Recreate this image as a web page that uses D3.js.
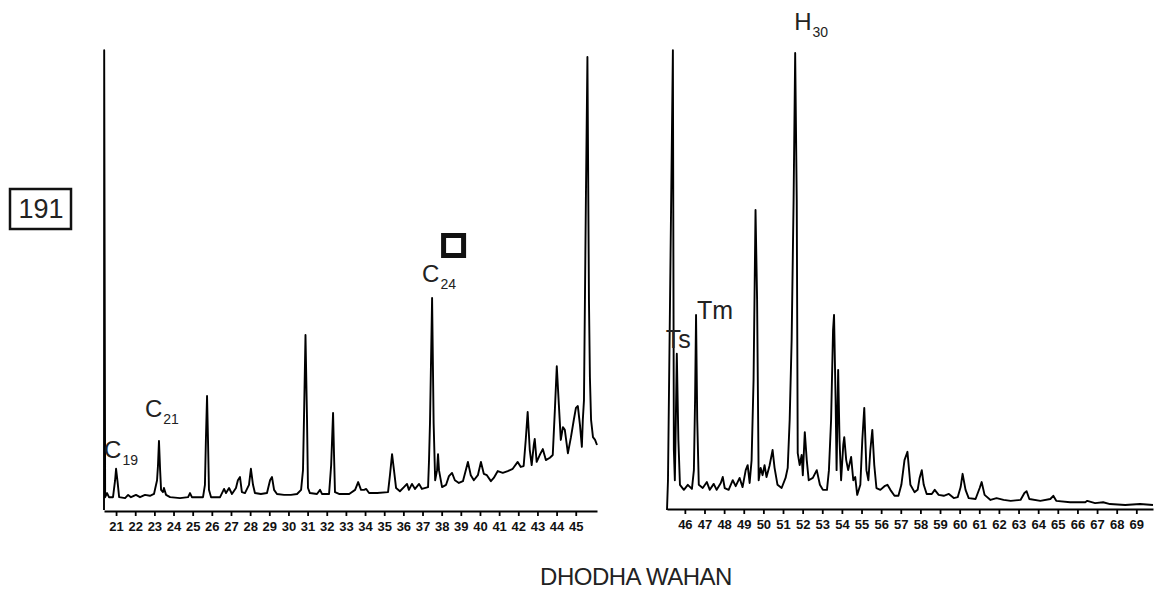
<!DOCTYPE html>
<html><head><meta charset="utf-8">
<script src="https://cdn.jsdelivr.net/npm/d3@7"></script>
<style>
body{margin:0;background:#fff;}
svg{display:block;}
</style></head>
<body>
<script>
// ---- data: retention time (min) vs relative abundance (%) ----
const leftTicks = [21,22,23,24,25,26,27,28,29,30,31,32,33,34,35,36,37,38,39,40,41,42,43,44,45];
const rightTicks = [46,47,48,49,50,51,52,53,54,55,56,57,58,59,60,61,62,63,64,65,66,67,68,69];

const leftTime = [20.37,20.38,20.43,20.53,20.63,20.84,20.95,21.00,21.08,21.16,21.47,21.63,21.78,22.04,22.25,22.51,22.77,22.98,23.14,23.19,23.24,23.30,23.35,23.45,23.50,23.61,23.82,24.34,24.76,24.86,24.96,25.54,25.64,25.69,25.75,25.80,25.85,25.96,26.43,26.64,26.74,26.90,27.05,27.26,27.36,27.47,27.57,27.73,27.94,28.04,28.15,28.25,28.56,28.88,29.04,29.14,29.25,29.40,29.77,30.13,30.45,30.66,30.76,30.81,30.89,30.97,31.02,31.12,31.49,31.65,31.75,32.12,32.23,32.33,32.38,32.43,32.64,33.17,33.48,33.64,33.79,33.95,34.06,34.21,34.63,35.20,35.30,35.41,35.51,35.62,35.82,36.03,36.19,36.29,36.45,36.61,36.82,36.97,37.29,37.34,37.39,37.50,37.58,37.66,37.76,37.81,37.86,38.02,38.23,38.38,38.54,38.69,38.90,39.11,39.26,39.37,39.52,39.68,39.89,40.05,40.20,40.36,40.57,40.72,40.93,41.19,41.45,41.71,41.97,42.13,42.28,42.39,42.49,42.60,42.70,42.81,42.86,42.96,43.12,43.28,43.44,43.65,43.80,43.91,44.01,44.12,44.22,44.33,44.43,44.59,44.75,44.90,45.01,45.11,45.22,45.32,45.37,45.43,45.53,45.61,45.69,45.74,45.80,45.90,46.01,46.11];
const leftAbund = [0,100.4,2.8,3.7,2.8,2.8,6.5,9.0,6.1,2.8,2.6,3.3,2.8,3.3,2.8,3.3,3.1,3.5,6.5,9.8,15.1,8.7,4.4,3.9,4.8,3.3,2.8,2.6,2.8,3.7,2.8,2.8,5.5,15.3,24.9,15.3,4.4,2.8,2.8,4.6,3.7,4.8,3.5,4.8,6.5,7.2,3.9,3.7,5.5,9.0,5.5,3.7,3.5,3.7,6.5,7.2,4.4,3.5,3.3,3.3,3.5,4.4,8.7,19.7,38.2,19.7,4.8,3.7,3.5,4.4,3.5,3.5,9.8,21.2,12.0,3.9,3.5,3.5,4.4,6.1,4.4,4.4,4.6,3.7,3.7,3.9,7.6,12.2,8.7,4.8,4.1,5.0,5.7,4.4,5.7,4.6,5.7,4.6,5.0,10.9,19.0,46.3,19.0,6.5,8.7,12.2,8.7,5.0,5.5,7.4,8.1,6.5,5.9,6.3,8.7,10.5,7.6,6.5,7.6,10.5,7.9,7.6,6.3,7.0,8.5,8.1,8.5,9.0,10.5,9.4,9.6,15.3,21.4,13.1,9.8,14.2,15.5,10.5,12.0,13.3,10.9,11.4,12.0,21.8,31.4,22.9,15.3,18.1,17.5,12.4,15.9,19.7,22.3,22.7,18.6,13.8,19.7,24.0,67.7,98.9,45.9,29.0,19.7,15.9,15.3,14.2];

const rightTime = [45.09,45.14,45.39,45.44,45.49,45.54,45.59,45.67,45.75,45.95,46.15,46.36,46.46,46.52,46.57,46.63,46.71,46.91,47.12,47.27,47.47,47.62,47.83,47.93,48.03,48.23,48.44,48.59,48.79,48.94,49.10,49.20,49.30,49.40,49.50,49.60,49.68,49.76,49.86,49.96,50.06,50.16,50.31,50.47,50.57,50.72,50.93,51.13,51.24,51.34,51.44,51.54,51.62,51.70,51.75,51.85,51.95,52.01,52.11,52.21,52.31,52.52,52.72,52.88,53.03,53.24,53.34,53.45,53.55,53.60,53.68,53.73,53.81,53.88,53.96,54.07,54.12,54.22,54.32,54.47,54.58,54.68,54.78,54.94,55.04,55.14,55.25,55.35,55.45,55.55,55.65,55.76,55.96,56.17,56.32,56.47,56.68,56.88,57.03,57.19,57.34,57.49,57.70,57.86,57.96,58.07,58.17,58.32,58.58,58.73,58.93,59.19,59.45,59.70,59.90,60.05,60.15,60.30,60.46,60.81,61.02,61.12,61.27,61.57,61.88,62.24,62.60,63.10,63.30,63.41,63.55,64.11,64.62,64.77,64.92,65.63,66.40,66.50,66.90,67.31,67.66,68.43,69.19,69.85];
const rightAbund = [0,6.5,100.4,13.1,6.5,19.7,34.1,15.3,5.5,4.4,5.5,4.6,8.7,24.0,42.6,19.7,5.5,4.8,6.1,4.4,5.7,4.4,5.9,7.2,4.8,4.4,6.5,5.2,7.0,5.0,8.7,9.8,5.9,10.9,28.4,65.5,45.9,6.5,9.2,7.6,9.8,7.2,9.6,13.1,9.2,5.5,4.8,7.0,9.2,19.7,37.1,67.7,99.8,67.7,12.4,9.8,12.0,7.6,17.0,10.9,6.5,7.0,8.7,5.5,4.4,4.4,8.7,19.7,39.3,42.6,24.0,8.7,30.6,15.3,6.5,14.2,15.9,10.9,8.7,11.6,6.5,7.2,3.3,5.5,15.3,22.3,8.7,6.5,13.1,17.5,9.8,4.8,4.4,5.2,5.5,4.4,3.1,3.1,5.5,10.9,12.7,5.5,3.9,4.4,7.0,8.7,5.5,3.5,3.5,4.4,3.3,3.1,3.5,2.6,2.8,5.0,7.9,4.4,2.6,2.4,4.8,6.1,3.3,2.2,2.6,2.2,2.0,2.2,3.7,4.1,2.4,2.0,2.4,3.1,2.0,1.7,1.7,2.0,1.5,1.7,1.3,1.1,1.3,1.1];

const peakLabels = [
  {panel:"L", t:21.00, main:"C", sub:"19"},
  {panel:"L", t:23.24, main:"C", sub:"21"},
  {panel:"L", t:37.50, main:"C", sub:"24"},
  {panel:"R", t:45.59, main:"Ts", sub:""},
  {panel:"R", t:46.57, main:"Tm", sub:""},
  {panel:"R", t:51.62, main:"H", sub:"30"}
];
const ionLabel = "191";
const sampleName = "DHODHA WAHAN";

// ---- layout ----
const W = 1154, H = 589;
const svg = d3.select("body").append("svg").attr("width", W).attr("height", H);

const y = d3.scaleLinear().domain([0, 100]).range([510, 52]);
const xL = d3.scaleLinear().domain([20.37, 46.11]).range([104, 597]);
const xR = d3.scaleLinear().domain([45.09, 69.85]).range([667, 1153]);

function drawPanel(x, times, vals, ticks, axisY) {
  const g = svg.append("g");
  const ax = d3.axisBottom(x).tickValues(ticks).tickSize(5).tickSizeOuter(0).tickPadding(6)
    .tickFormat(d3.format("d"));
  const a = g.append("g").attr("transform", `translate(0,${axisY})`).call(ax);
  a.select(".domain").attr("stroke", "#000").attr("stroke-width", 1.8);
  a.selectAll(".tick line").attr("stroke", "#000").attr("stroke-width", 1.8);
  a.selectAll(".tick text")
    .attr("font-family", "'Liberation Sans Narrow','Arial Narrow',sans-serif")
    .attr("font-weight", "bold").attr("font-size", 13).attr("fill", "#111");
  const pts = times.map((t, i) => [t, vals[i]]);
  const line = d3.line().x(d => x(d[0])).y(d => y(d[1])).curve(d3.curveLinear);
  g.append("path").datum(pts).attr("d", line)
    .attr("fill", "none").attr("stroke", "#000").attr("stroke-width", 1.9)
    .attr("stroke-linejoin", "round");
}
drawPanel(xL, leftTime, leftAbund, leftTicks, 511);
drawPanel(xR, rightTime, rightAbund, rightTicks, 509);

// peak labels (offsets relative to peak apex)
const labelOff = {
  "C19": [-12, 458], "C21": [-14, 417], "C24": [-10, 282],
  "Ts": [-11, 348], "Tm": [1, 319], "H30": [-1, 30]
};
const fontMain = "'Liberation Sans', Arial, sans-serif";
peakLabels.forEach(p => {
  const x = p.panel === "L" ? xL : xR;
  const key = p.main + p.sub;
  const off = labelOff[key];
  const t = svg.append("text").attr("x", x(p.t) + off[0]).attr("y", off[1])
    .attr("font-family", fontMain).attr("font-size", p.sub ? 24 : 25).attr("fill", "#222");
  t.append("tspan").text(p.main);
  if (p.sub) t.append("tspan").attr("font-size", 14).attr("dx", 1).attr("dy", 7).text(p.sub);
});

// square marker above C24
svg.append("rect").attr("x", xL(37.50) + 11.5).attr("y", 235.5).attr("width", 20).attr("height", 20)
  .attr("fill", "none").attr("stroke", "#111").attr("stroke-width", 5);

// ion box
svg.append("rect").attr("x", 10).attr("y", 189).attr("width", 61).attr("height", 40)
  .attr("fill", "none").attr("stroke", "#111").attr("stroke-width", 2.5);
svg.append("text").attr("x", 41).attr("y", 218).attr("text-anchor", "middle")
  .attr("font-family", fontMain).attr("font-size", 27).attr("fill", "#222").text(ionLabel);

// sample name
svg.append("text").attr("x", 636).attr("y", 585).attr("text-anchor", "middle")
  .attr("font-family", fontMain).attr("font-size", 24).attr("letter-spacing", -0.5)
  .attr("fill", "#222").text(sampleName);
</script>
</body></html>
